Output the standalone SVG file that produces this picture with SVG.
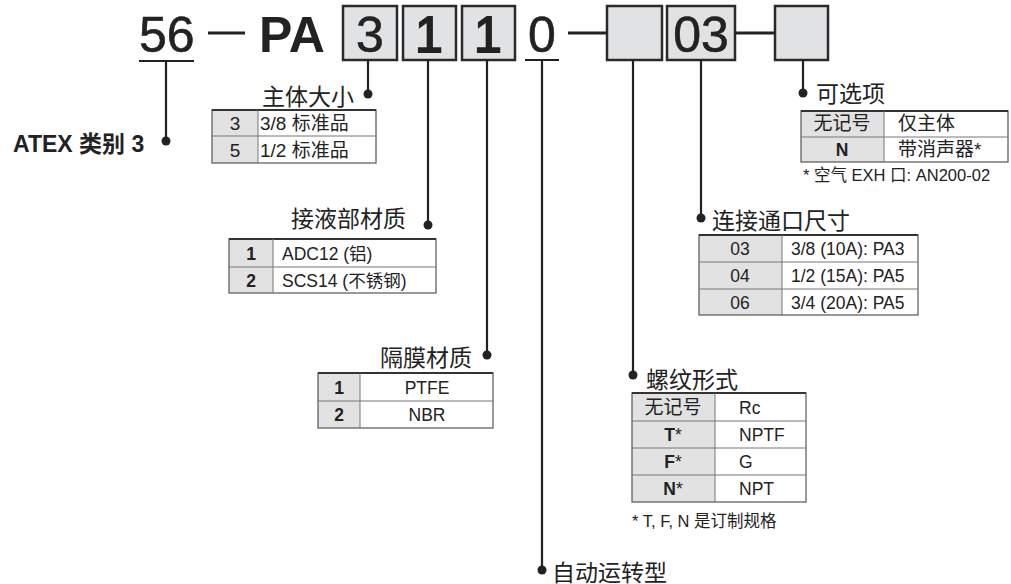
<svg xmlns="http://www.w3.org/2000/svg" width="1011" height="584" viewBox="0 0 1011 584">
<style>
.big{font-family:"Liberation Sans",Arial,sans-serif;font-size:50px;fill:#222;stroke:#222;stroke-width:0.6}
.pa{font-weight:bold;stroke-width:0}
.box{fill:#e1e2e4;stroke:#2a2a2a;stroke-width:2.5}
.ln{stroke:#222;stroke-width:2.2;fill:none}
.dot{fill:#222}
.b{font-weight:bold}
.hd{font-family:"Liberation Sans","Noto Sans CJK SC",sans-serif;font-size:23px;fill:#222}
.t{font-family:"Liberation Sans","Noto Sans CJK SC",sans-serif;font-size:17.5px;fill:#222}
.fn{font-family:"Liberation Sans","Noto Sans CJK SC",sans-serif;font-size:16.5px;fill:#222}
.c{text-anchor:middle}
.g{fill:#e2e2e2}
.out{fill:none;stroke:#555;stroke-width:1.2}
.top{stroke:#333;stroke-width:2}
.in{stroke:#777;stroke-width:1}
</style>
<g id="code">
<text class="big" x="139" y="52">56</text>
<line class="ln" x1="139" y1="61" x2="194" y2="61"/>
<line class="ln" x1="208" y1="33" x2="245" y2="33" style="stroke-width:3"/>
<text class="big pa" x="259" y="52">PA</text>
<rect class="box" x="343" y="6" width="54" height="54"/>
<text class="big c" x="370" y="52">3</text>
<rect class="box" x="403" y="6" width="53" height="54"/>
<text class="big c" x="429" y="52" style="stroke-width:1.8">1</text>
<rect class="box" x="462" y="6" width="53" height="54"/>
<text class="big c" x="488" y="52" style="stroke-width:1.8">1</text>
<text class="big c" x="542" y="52">0</text>
<line class="ln" x1="525" y1="60" x2="559" y2="60"/>
<line class="ln" x1="568" y1="33" x2="607" y2="33" style="stroke-width:3"/>
<rect class="box" x="607" y="6" width="55" height="54"/>
<rect class="box" x="667" y="6" width="68" height="54"/>
<text class="big c" x="701" y="52">03</text>
<line class="ln" x1="735" y1="33" x2="775" y2="33" style="stroke-width:3"/>
<rect class="box" x="775" y="6" width="53" height="54"/>
</g>
<g id="connectors">
<line class="ln" x1="166" y1="61" x2="166" y2="141"/>
<circle class="dot" cx="166" cy="141" r="4.5"/>
<line class="ln" x1="368" y1="60" x2="368" y2="94"/>
<circle class="dot" cx="368" cy="94" r="4.5"/>
<line class="ln" x1="428" y1="60" x2="428" y2="225"/>
<circle class="dot" cx="428" cy="225" r="4.5"/>
<line class="ln" x1="487" y1="60" x2="487" y2="355"/>
<circle class="dot" cx="487" cy="355" r="4.5"/>
<line class="ln" x1="542" y1="61" x2="542" y2="570"/>
<circle class="dot" cx="542" cy="570" r="4.5"/>
<line class="ln" x1="633" y1="60" x2="633" y2="375"/>
<circle class="dot" cx="633" cy="375" r="4.5"/>
<line class="ln" x1="701" y1="60" x2="701" y2="218"/>
<circle class="dot" cx="701" cy="218" r="4.5"/>
<line class="ln" x1="803" y1="60" x2="803" y2="93"/>
<circle class="dot" cx="803" cy="93" r="4.5"/>
</g>
<g id="atex">
<text class="hd b" x="13" y="152" style="font-size:23px">ATEX 类别 3</text>
</g>
<g id="body-size">
<text class="hd" x="262" y="105">主体大小</text>
<rect class="g" x="212" y="110" width="46" height="53"/>
<rect class="out" x="212" y="110" width="164" height="53"/>
<line class="top" x1="212" y1="110" x2="376" y2="110"/>
<line class="in" x1="212" y1="136" x2="376" y2="136"/>
<line class="in" x1="258" y1="110" x2="258" y2="163"/>
<text class="t c" x="235" y="130" style="font-size:19px">3</text>
<text class="t" x="260" y="130" style="font-size:19px">3/8 标准品</text>
<text class="t c" x="235" y="157" style="font-size:19px">5</text>
<text class="t" x="260" y="157" style="font-size:19px">1/2 标准品</text>
</g>
<g id="wetted">
<text class="hd" x="291" y="227">接液部材质</text>
<rect class="g" x="229" y="239" width="44" height="54"/>
<rect class="out" x="229" y="239" width="207" height="54"/>
<line class="top" x1="229" y1="239" x2="436" y2="239"/>
<line class="in" x1="229" y1="267" x2="436" y2="267"/>
<line class="in" x1="273" y1="239" x2="273" y2="293"/>
<text class="t c b" x="251" y="260">1</text>
<text class="t" x="282" y="260">ADC12 (铝)</text>
<text class="t c b" x="251" y="287">2</text>
<text class="t" x="282" y="287">SCS14 (不锈钢)</text>
</g>
<g id="diaphragm">
<text class="hd" x="380" y="366">隔膜材质</text>
<rect class="g" x="318" y="373" width="42" height="55"/>
<rect class="out" x="318" y="373" width="175" height="55"/>
<line class="top" x1="318" y1="373" x2="493" y2="373"/>
<line class="in" x1="318" y1="401" x2="493" y2="401"/>
<line class="in" x1="360" y1="373" x2="360" y2="428"/>
<text class="t c b" x="339" y="394">1</text>
<text class="t c" x="427" y="394">PTFE</text>
<text class="t c b" x="339" y="421">2</text>
<text class="t c" x="427" y="421">NBR</text>
</g>
<g id="auto">
<text class="hd" x="552" y="581">自动运转型</text>
</g>
<g id="thread">
<text class="hd" x="646" y="388">螺纹形式</text>
<rect class="g" x="632" y="393" width="83" height="109"/>
<rect class="out" x="632" y="393" width="174" height="109"/>
<line class="top" x1="632" y1="393" x2="806" y2="393"/>
<line class="in" x1="632" y1="421" x2="806" y2="421"/>
<line class="in" x1="632" y1="448" x2="806" y2="448"/>
<line class="in" x1="632" y1="475" x2="806" y2="475"/>
<line class="in" x1="715" y1="393" x2="715" y2="502"/>
<text class="t c" x="673" y="414" style="font-size:19px">无记号</text>
<text class="t c" x="673" y="441"><tspan class="b">T</tspan>*</text>
<text class="t c" x="673" y="468"><tspan class="b">F</tspan>*</text>
<text class="t c" x="673" y="495"><tspan class="b">N</tspan>*</text>
<text class="t" x="739" y="414">Rc</text>
<text class="t" x="739" y="441">NPTF</text>
<text class="t" x="739" y="468">G</text>
<text class="t" x="739" y="495">NPT</text>
<text class="fn" x="632" y="527">* T, F, N 是订制规格</text>
</g>
<g id="port">
<text class="hd" x="712" y="229">连接通口尺寸</text>
<rect class="g" x="699" y="235" width="83" height="80"/>
<rect class="out" x="699" y="235" width="219" height="80"/>
<line class="top" x1="699" y1="235" x2="918" y2="235"/>
<line class="in" x1="699" y1="262" x2="918" y2="262"/>
<line class="in" x1="699" y1="289" x2="918" y2="289"/>
<line class="in" x1="782" y1="235" x2="782" y2="315"/>
<text class="t c" x="740" y="255">03</text>
<text class="t c" x="740" y="282">04</text>
<text class="t c" x="740" y="309">06</text>
<text class="t" x="791" y="255">3/8 (10A): PA3</text>
<text class="t" x="791" y="282">1/2 (15A): PA5</text>
<text class="t" x="791" y="309">3/4 (20A): PA5</text>
</g>
<g id="option">
<text class="hd" x="816" y="102">可选项</text>
<rect class="g" x="801" y="111" width="83" height="51"/>
<rect class="out" x="801" y="111" width="207" height="51"/>
<line class="top" x1="801" y1="111" x2="1008" y2="111"/>
<line class="in" x1="801" y1="137" x2="1008" y2="137"/>
<line class="in" x1="884" y1="111" x2="884" y2="162"/>
<text class="t c" x="842" y="130" style="font-size:19px">无记号</text>
<text class="t c b" x="842" y="156">N</text>
<text class="t" x="898" y="130" style="font-size:19px">仅主体</text>
<text class="t" x="898" y="156" style="font-size:19px">带消声器*</text>
<text class="fn" x="803" y="181">* 空气 EXH 口: AN200-02</text>
</g>
</svg>
